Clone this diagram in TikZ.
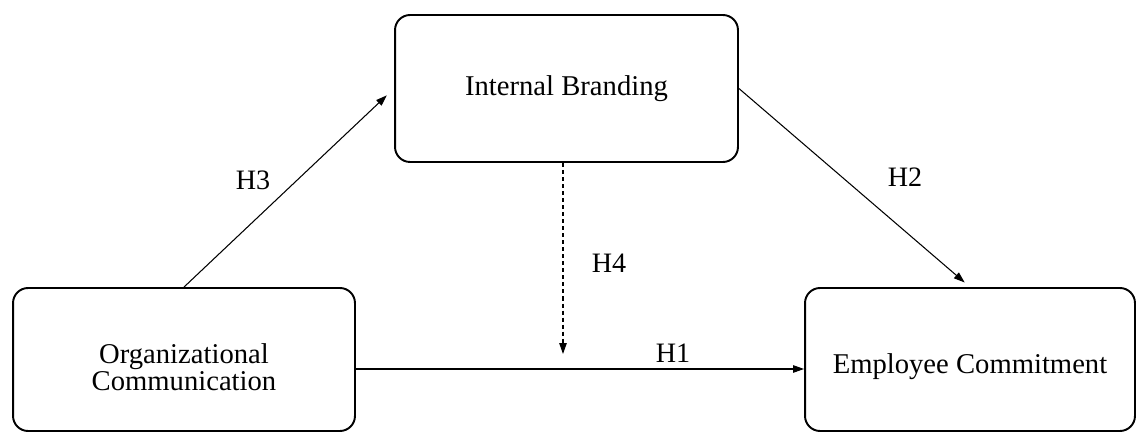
\documentclass[tikz,border=0pt]{standalone}
\usepackage{fontspec}
\setmainfont{Liberation Serif}
\usepackage{tikz}
\usetikzlibrary{arrows.meta,positioning}

\begin{document}
\begin{tikzpicture}[
    x=0.02cm, y=-0.02cm,
    box/.style={rectangle, rounded corners=0.3cm, draw=black, line width=1.1pt,
                fill=white, inner sep=0pt, align=center,
                font=\fontsize{16.3}{15.4}\selectfont},
    arr/.style={-{Triangle[length=0.22cm,width=0.15cm]}, line width=0.6pt},
    dasharr/.style={arr, dash pattern=on 2.3pt off 1.7pt},
    hyp/.style={font=\fontsize{16}{18}\selectfont, inner sep=0pt}
]
\useasboundingbox (0,0) rectangle (1137,432);

% --- constructs ---
\node[box, minimum width=6.86cm, minimum height=2.94cm] (brand) at (566.5,88.5) {Internal Branding};
\node[box, minimum width=6.84cm, minimum height=2.86cm, text height=26pt, text depth=4.6pt]
    (orgcom) at (184,359.5) {\begin{tabular}{@{}c@{}}Organizational\\Communication\end{tabular}};
\node[box, minimum width=6.6cm, minimum height=2.86cm, text height=19.4pt, text depth=4pt]
    (commit) at (970,359.5) {Employee Commitment};

% --- paths ---
\coordinate (h1start) at ([yshift=-0.19cm]orgcom.east);
\coordinate (h1end) at ([yshift=-0.19cm]commit.west);
\coordinate (moder) at ([xshift=-0.07cm]brand.south |- h1start);

\draw[arr, shorten >=0.2cm] (orgcom.north) -- (brand.west);
\draw[arr, shorten >=0.14cm] (brand.east) -- (commit.north);
\draw[arr] (h1start) -- (h1end);
\draw[dasharr, shorten >=0.3cm] ([xshift=-0.07cm]brand.south) -- (moder);

% hypothesis labels
\node[hyp] (h1) at (673,353) {H1};
\node[hyp] (h2) at (905,177) {H2};
\node[hyp] (h3) at (253,180) {H3};
\node[hyp] (h4) at (609,263) {H4};

\end{tikzpicture}
\end{document}
